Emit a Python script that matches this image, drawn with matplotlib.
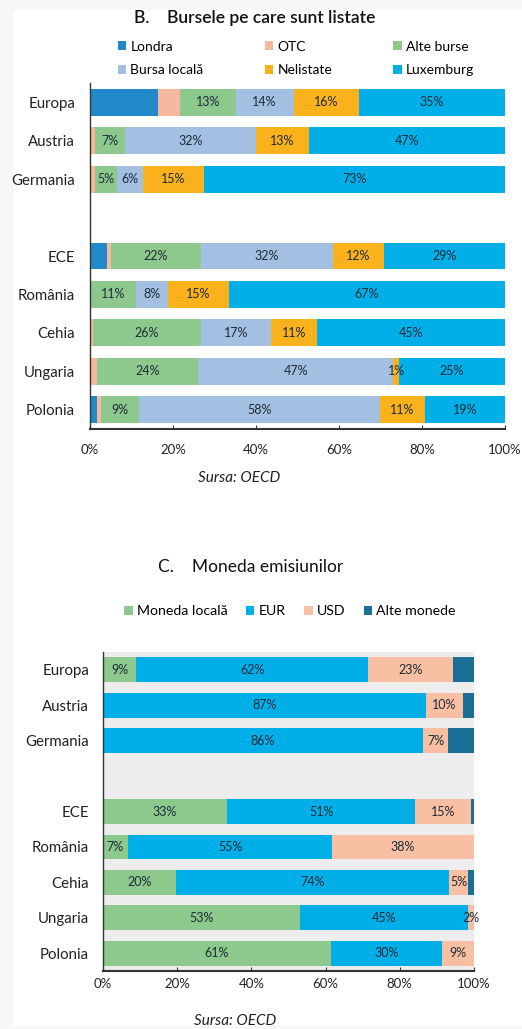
import matplotlib
matplotlib.use("Agg")
import matplotlib.pyplot as plt
import matplotlib.patches as patches

plt.rcParams['font.family'] = ['Lato', 'DejaVu Sans']

W, H = 522, 1029

# --- date panel B: bursele pe care sunt listate (%)
tari = ['Europa', 'Austria', 'Germania', 'ECE', 'România', 'Cehia', 'Ungaria', 'Polonia']
randuri = [0, 1, 2, 4, 5, 6, 7, 8]   # rândul 3 rămâne gol

burse_serii = ['Londra', 'OTC', 'Alte burse', 'Bursa locală', 'Nelistate', 'Luxemburg']
londra    = [16.3, 0.0, 0.0, 4.2, 0.0, 0.0, 0.0, 1.8]
otc       = [5.4, 1.2, 1.2, 0.9, 0.0, 0.8, 1.6, 0.9]
alte      = [13.4, 7.2, 5.3, 21.6, 11.2, 25.9, 24.4, 9.0]
locala    = [14.0, 31.6, 6.3, 31.8, 7.6, 16.9, 47.1, 58.1]
nelistate = [15.7, 12.7, 14.6, 12.3, 14.6, 11.1, 1.4, 10.9]
luxemburg = [35.2, 47.3, 72.6, 29.2, 66.6, 45.3, 25.4, 19.3]
burse_vals = [londra, otc, alte, locala, nelistate, luxemburg]
burse_culori = ['#2189ca', '#f6b89e', '#8dc98c', '#a3bfe1', '#f9b11c', '#00aee8']
burse_etich = [False, False, True, True, True, True]

# --- date panel C: moneda emisiunilor (%)
moneda_serii = ['Moneda locală', 'EUR', 'USD', 'Alte monede']
m_locala = [9.0, 0.0, 0.0, 33.4, 6.7, 19.6, 53.1, 61.4]
m_eur    = [62.4, 87.0, 86.2, 50.8, 55.1, 73.7, 45.3, 29.9]
m_usd    = [23.0, 10.0, 6.9, 14.9, 38.2, 5.1, 1.6, 8.7]
m_alte   = [5.6, 3.0, 6.9, 0.9, 0.0, 1.6, 0.0, 0.0]
moneda_vals = [m_locala, m_eur, m_usd, m_alte]
moneda_culori = ['#8dc98c', '#00aee8', '#f9bfa2', '#1a6f96']
moneda_etich = [True, True, True, False]

xticks = [0, 20, 40, 60, 80, 100]
xticklabels = ['0%', '20%', '40%', '60%', '80%', '100%']

txt = '#222222'
lbl_color = '#1e2b38'


def box(l, t, r, b):
    return [l / W, 1 - b / H, (r - l) / W, (b - t) / H]


def stacked(ax, vals, culori, etich, serii, ypad, xpad):
    left = [0.0] * len(tari)
    handles = []
    for v, c, e, name in zip(vals, culori, etich, serii):
        bars = ax.barh(randuri, v, left=left, height=0.7, color=c, label=name,
                       edgecolor='none')
        handles.append(bars)
        if e:
            labels = [f'{x:.0f}%' if x > 0 else '' for x in v]
            ax.bar_label(bars, labels=labels, label_type='center',
                         fontsize=9, color=lbl_color)
        left = [a + b for a, b in zip(left, v)]
    ax.set_xlim(0, 100)
    ax.set_ylim(8.5, -0.5)
    ax.set_yticks(randuri)
    ax.set_yticklabels(tari, fontsize=10.8, color=txt)
    ax.set_xticks(xticks)
    ax.set_xticklabels(xticklabels, fontsize=9.5, color=txt)
    ax.tick_params(axis='y', length=0, pad=ypad)
    ax.tick_params(axis='x', direction='in', length=3, pad=xpad, color='#333333')
    for s in ['top', 'right']:
        ax.spines[s].set_visible(False)
    ax.spines['left'].set_color('#333333')
    ax.spines['bottom'].set_color('#333333')
    ax.spines['left'].set_linewidth(1.0)
    ax.spines['bottom'].set_linewidth(1.5)
    return handles


fig = plt.figure(figsize=(W / 100, H / 100), dpi=100)
fig.patch.set_facecolor('#f7f7f7')
fig.patches.append(patches.Rectangle((13 / W, 1 - 1026 / H), 1, 1016 / H,
                                     transform=fig.transFigure,
                                     facecolor='white', edgecolor='none', zorder=-5))

# panel B
axB = fig.add_axes(box(90, 83, 505, 429))
axB.set_facecolor('white')
hB = stacked(axB, burse_vals, burse_culori, burse_etich, burse_serii, 10.8, 11)
fig.text(255 / W, 1 - 18 / H, 'B.    Bursele pe care sunt listate', ha='center',
         va='center', fontsize=12.6, color='#111111', fontweight='semibold')
order = [0, 3, 1, 4, 2, 5]
fig.legend([hB[i] for i in order], [burse_serii[i] for i in order],
           ncol=3, loc='center left', mode='expand',
           bbox_to_anchor=(118 / W, 1 - 58.5 / H, 356 / W, 0.0),
           frameon=False, fontsize=10, handlelength=0.6, handleheight=0.6,
           handletextpad=0.3, labelspacing=0.85, borderaxespad=0, borderpad=0)
fig.text(239 / W, 1 - 478 / H, 'Sursa: OECD', ha='center', va='center',
         fontsize=11, style='italic', color=txt)

# panel C
axC = fig.add_axes(box(103, 652, 474, 971))
axC.set_facecolor('#ededed')
hC = stacked(axC, moneda_vals, moneda_culori, moneda_etich, moneda_serii, 10, 5)
fig.text(251 / W, 1 - 567 / H, 'C.    Moneda emisiunilor', ha='center',
         va='center', fontsize=12.5, color='#111111')
fig.legend(hC, moneda_serii, ncol=4, loc='center',
           bbox_to_anchor=(290 / W, 1 - 611 / H), frameon=False, fontsize=10.2,
           handlelength=0.6, handleheight=0.6, handletextpad=0.3,
           columnspacing=1.3, borderaxespad=0, borderpad=0)
fig.text(235 / W, 1 - 1021 / H, 'Sursa: OECD', ha='center', va='center',
         fontsize=11, style='italic', color=txt)

fig.savefig('out.png', dpi=100, facecolor=fig.get_facecolor())
